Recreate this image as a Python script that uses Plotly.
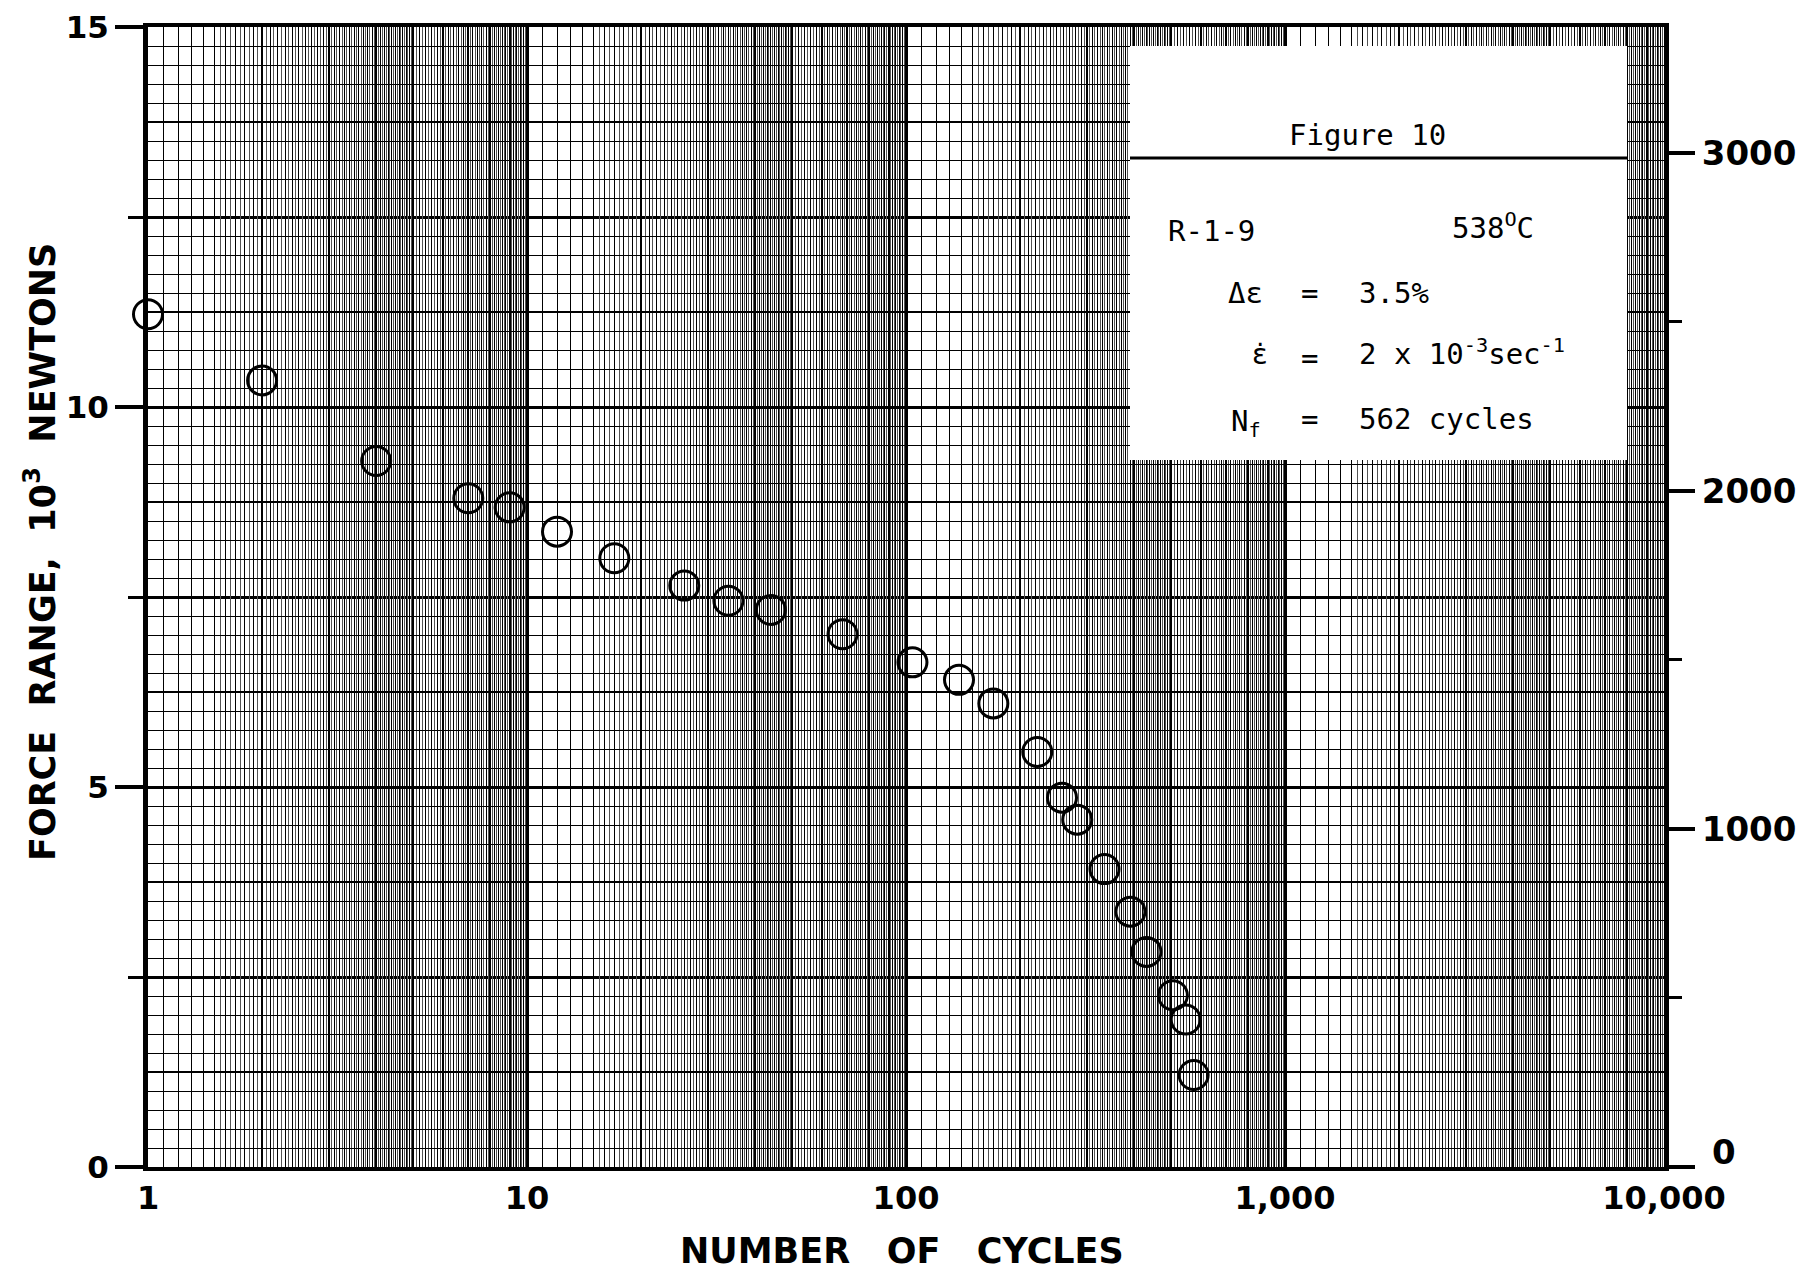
import plotly.graph_objects as go

# ---------------- data ----------------
cycles = [1, 2, 4, 7, 9, 12, 17, 26, 34, 44, 68, 104, 138, 170, 222, 258, 283, 334, 391, 431, 506, 547, 574]
force_kN = [11.22, 10.35, 9.29, 8.80, 8.68, 8.36, 8.01, 7.65, 7.45, 7.33, 7.01, 6.64, 6.41, 6.10, 5.46,
            4.86, 4.57, 3.92, 3.36, 2.83, 2.26, 1.94, 1.21]

x_tick_vals = [1, 10, 100, 1000, 10000]
x_tick_text = ["1", "10", "100", "1,000", "10,000"]
y_tick_vals = [0, 5, 10, 15]
y_tick_text = ["0", "5", "10", "15"]
y_minor_vals = [2.5, 7.5, 12.5]
lbf_tick_vals = [0, 1000, 2000, 3000]
lbf_tick_text = ["", "1000", "2000", "3000"]
lbf_minor_vals = [500, 1500, 2500]

N_PER_LBF = 4.44822
Y_MAX = 15.0

# ---------------- layout geometry ----------------
# the page body has an 8px margin, so the figure is drawn from (8, 8)
W, H = 1804, 1265
L, R, T, B = 140, 148, 19, 106
PLOT_LEFT, PLOT_BOTTOM = 8 + L, 8 + H - B
PW, PH = W - L - R, H - T - B


def px(x):
    return (x - PLOT_LEFT) / PW


def py(y):
    return (PLOT_BOTTOM - y) / PH


# grid line positions for the log-paper look
x_int_lines = [k * 10 ** d for d in range(4) for k in range(2, 10)]
x_thin_lines = ([round(t * 10 ** d / 10, 6) for d in range(4) for t in range(11, 50) if t % 10]
                + [round(t * 10 ** d / 10, 6) for d in range(4) for t in range(52, 100, 2) if t % 10])
x_faint_lines = ([round(t * 10 ** d / 100, 6) for d in range(4) for t in range(155, 500, 10)]
                 + [round(t * 10 ** d / 10, 6) for d in range(4) for t in range(51, 100, 2)])
y_mid_lines = [i * 1.25 for i in range(1, 12) if i % 2]
y_thin_lines = [i * 0.25 for i in range(1, 60) if i % 5]

fig = go.Figure()

# carrier traces for the overlay grid axes
fig.add_trace(go.Scatter(x=[], y=[], xaxis="x2", yaxis="y3", showlegend=False, hoverinfo="skip"))
fig.add_trace(go.Scatter(x=[], y=[], xaxis="x", yaxis="y4", showlegend=False, hoverinfo="skip"))
fig.add_trace(go.Scatter(x=[], y=[], xaxis="x", yaxis="y2", showlegend=False, hoverinfo="skip"))

fig.add_trace(go.Scatter(
    x=cycles, y=force_kN, mode="markers", cliponaxis=False, showlegend=False,
    marker=dict(symbol="circle-open", size=29, color="black", line=dict(width=3, color="black")),
))

tick_font = dict(family="DejaVu Sans", size=31, color="black", weight="bold")
x_tick_font = dict(family="DejaVu Sans", size=32, color="black", weight="bold")
r_tick_font = dict(family="DejaVu Sans", size=34, color="black", weight="bold")

fig.update_layout(
    width=W, height=H,
    margin=dict(l=L, r=R, t=T, b=B, autoexpand=False),
    paper_bgcolor="white", plot_bgcolor="white",
    showlegend=False,
    xaxis=dict(
        type="log", range=[0, 4], tickmode="array", tickvals=x_tick_vals, ticktext=x_tick_text,
        tickfont=x_tick_font, ticks="", showgrid=True, gridcolor="black", gridwidth=3,
        showline=True, linecolor="black", linewidth=4, mirror=True, zeroline=False,
        minor=dict(tickmode="array", tickvals=x_int_lines, showgrid=True, gridcolor="black", gridwidth=2, ticks=""),
    ),
    xaxis2=dict(
        type="log", range=[0, 4], overlaying="x", anchor="y3", tickmode="array", tickvals=x_thin_lines,
        showticklabels=False, ticks="", showgrid=True, gridcolor="#000000", gridwidth=1,
        showline=False, zeroline=False,
        minor=dict(tickmode="array", tickvals=x_faint_lines, showgrid=True, gridcolor="#555555",
                   gridwidth=1, ticks=""),
    ),
    yaxis=dict(
        range=[0, Y_MAX], tickmode="array", tickvals=y_tick_vals, ticktext=y_tick_text,
        tickfont=tick_font, ticks="outside", ticklen=28, tickwidth=4, tickcolor="black",
        showgrid=True, gridcolor="black", gridwidth=3,
        showline=True, linecolor="black", linewidth=5, mirror=True, zeroline=False,
        minor=dict(tickmode="array", tickvals=y_minor_vals, ticks="outside", ticklen=15, tickwidth=3,
                   tickcolor="black", showgrid=True, gridcolor="black", gridwidth=3),
    ),
    yaxis3=dict(
        range=[0, Y_MAX], overlaying="y", anchor="x2", tickmode="array", tickvals=y_mid_lines,
        showticklabels=False, ticks="", showgrid=True, gridcolor="black", gridwidth=2,
        showline=False, zeroline=False,
    ),
    yaxis4=dict(
        range=[0, Y_MAX], overlaying="y", anchor="x", tickmode="array", tickvals=y_thin_lines,
        showticklabels=False, ticks="", showgrid=True, gridcolor="#000000", gridwidth=1,
        showline=False, zeroline=False,
    ),
    yaxis2=dict(
        range=[0, Y_MAX * 1000 / N_PER_LBF], overlaying="y", side="right", anchor="x",
        tickmode="array", tickvals=lbf_tick_vals, ticktext=lbf_tick_text, tickfont=r_tick_font,
        ticks="outside", ticklen=30, tickwidth=4, tickcolor="black", showgrid=False,
        showline=False, zeroline=False,
        minor=dict(tickmode="array", tickvals=lbf_minor_vals, ticks="outside", ticklen=17,
                   tickwidth=3, tickcolor="black", showgrid=False),
    ),
)

# white legend box with the test conditions
fig.add_shape(type="rect", xref="paper", yref="paper", x0=px(1130), x1=px(1627), y0=py(460), y1=py(46),
              fillcolor="white", line=dict(width=0), layer="above")
fig.add_shape(type="line", xref="paper", yref="paper", x0=px(1130), x1=px(1627), y0=py(158), y1=py(158),
              line=dict(color="black", width=3), layer="above")

mono = dict(family="DejaVu Sans Mono", size=29, color="black")


def note(text, x, y, anchor="left", font=mono):
    fig.add_annotation(text=text, xref="paper", yref="paper", x=px(x), y=py(y), xanchor=anchor,
                       yanchor="middle", showarrow=False, font=font)


note("Figure 10", 1367, 135, "center")
note("R-1-9", 1166, 231)
note("538<sup>O</sup>C", 1450, 226)
note("Δε", 1226, 293)
note("=", 1309, 293, "center")
note("3.5%", 1357, 293)
note("ε\u0307", 1250, 354, font=dict(family="DejaVu Sans", size=29, color="black"))
note("=", 1309, 358, "center")
note("2 x 10<sup>-3</sup>sec<sup>-1</sup>", 1357, 352)
note("N<sub>f</sub>", 1229, 423)
note("=", 1309, 419, "center")
note("562 cycles", 1357, 419)

# axis titles
title_font = dict(family="DejaVu Sans", size=35, color="black", weight="bold")
fig.add_annotation(text="FORCE  RANGE,  10<sup>3</sup>  NEWTONS", xref="paper", yref="paper",
                   x=px(40), y=py(552), textangle=-90, showarrow=False, font=title_font,
                   xanchor="center", yanchor="middle")
fig.add_annotation(text="NUMBER   OF   CYCLES", xref="paper", yref="paper", x=px(902), y=py(1251),
                   showarrow=False, font=title_font, xanchor="center", yanchor="middle")
# right-axis zero label (set slightly high, as on the original sheet)
fig.add_annotation(text="0", xref="paper", yref="paper", x=px(1724), y=py(1152), showarrow=False,
                   font=r_tick_font, xanchor="center", yanchor="middle")

fig.write_html("out.html")
